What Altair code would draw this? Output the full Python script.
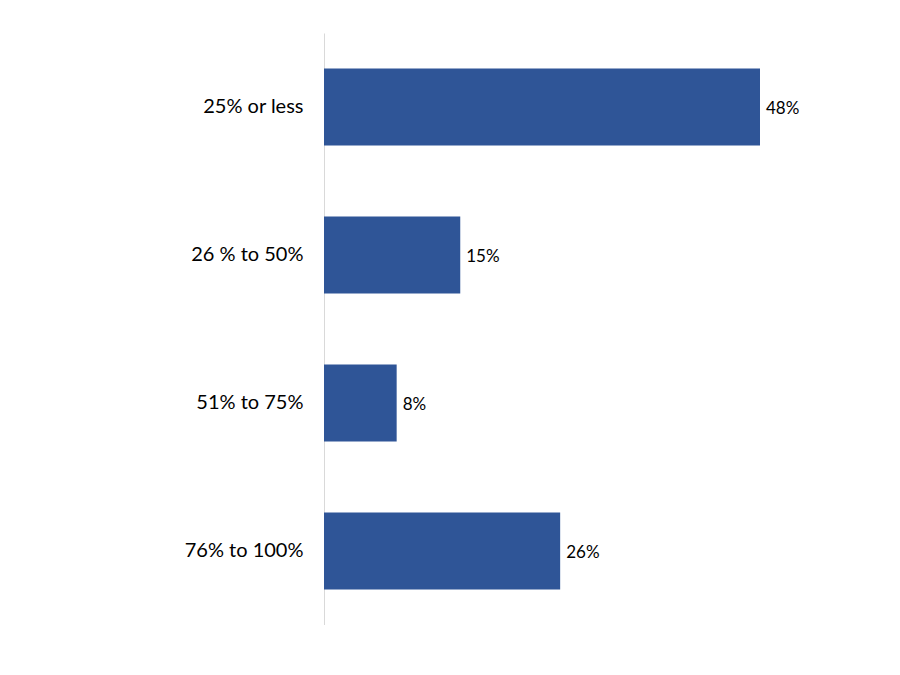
import altair as alt
import pandas as pd

categories = ["25% or less", "26 % to 50%", "51% to 75%", "76% to 100%"]
values = [48, 15, 8, 26]
labels = ["48%", "15%", "8%", "26%"]

df = pd.DataFrame({"cat": categories, "val": values, "lab": labels})

FONT = "Lato"

y = alt.Y("cat:N", sort=categories, title=None,
          scale=alt.Scale(paddingInner=0.48, paddingOuter=0.24),
          axis=alt.Axis(domain=True, domainColor="#d9d9d9", domainWidth=1,
                        ticks=False, labelFontSize=20, labelFont=FONT,
                        labelColor="#000000", labelPadding=21, grid=False))
x = alt.X("val:Q", title=None, scale=alt.Scale(domain=[0, 60]), axis=None)

bars = alt.Chart(df).mark_bar(color="#2f5597").encode(x=x, y=y)
text = alt.Chart(df).mark_text(align="left", dx=6, dy=2, fontSize=17, font=FONT,
                                color="#000000").encode(x=x, y=y, text="lab:N")

chart = (bars + text).properties(
    width=545, height=592,
    background="white",
    autosize=alt.AutoSizeParams(type="none"),
    padding={"left": 316, "top": 25, "right": 0, "bottom": 0},
).configure_view(stroke=None, strokeWidth=0)

chart.save("out.html", embed_options={"renderer": "svg", "actions": False})
